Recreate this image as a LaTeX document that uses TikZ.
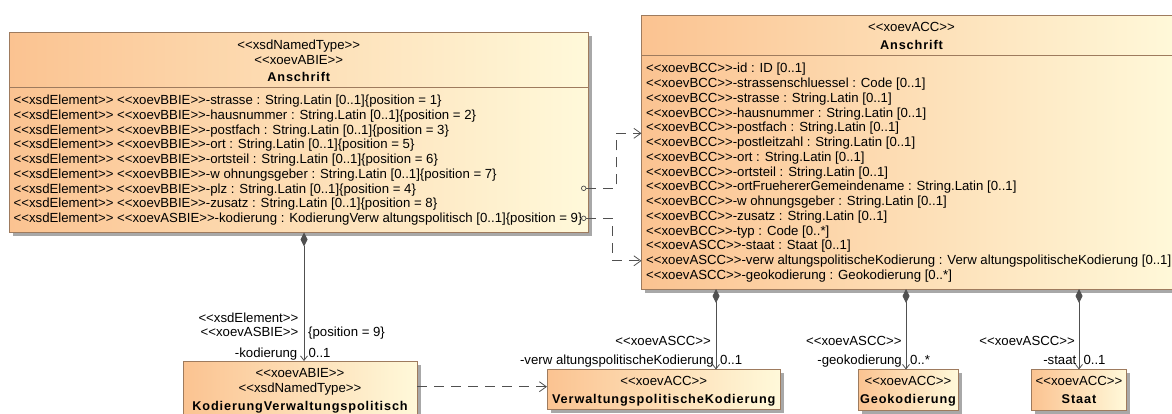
\documentclass[tikz,border=0pt]{standalone}
\usepackage{fontspec}
\setmainfont{Liberation Sans}[Ligatures=TeXOff]
\newfontfamily\namefam{Liberation Sans}[LetterSpace=7,Ligatures=TeXOff]
\usetikzlibrary{arrows.meta,shadows,calc}
\definecolor{umlfillA}{HTML}{FBC391}
\definecolor{umlfillB}{HTML}{FFF9DA}
\definecolor{umlborder}{HTML}{9E7B5E}
\definecolor{umlline}{HTML}{505050}
\definecolor{umlshadow}{HTML}{A8A8A8}
\newcommand\rowfont{\fontsize{13.2}{15}\selectfont}
\newcommand\namefont{\fontsize{12.7}{15}\selectfont\namefam\bfseries}
\tikzset{
  umlbox/.style={rectangle, draw=umlborder, line width=0.9pt, left color=umlfillA, right color=umlfillB,
    inner sep=0pt, outer sep=0pt, anchor=north west,
    drop shadow={shadow xshift=3.5pt, shadow yshift=-3.5pt, fill=umlshadow, opacity=1}},
  divider/.style={draw=umlborder, line width=0.9pt},
  ltxt/.style={inner sep=0pt, font=\rowfont, anchor=base west},
  ctxt/.style={inner sep=0pt, font=\rowfont, anchor=base},
  btxt/.style={inner sep=0pt, font=\namefont, anchor=base},
  rlab/.style={inner sep=0pt, font=\rowfont, anchor=base east},
  llab/.style={inner sep=0pt, font=\rowfont, anchor=base west},
  comp/.style={draw=umlline, line width=0.8pt, {Diamond[length=14pt,width=7pt]}-{Straight Barb[length=4.5pt,width=7pt]}},
  depend/.style={draw=umlline, line width=0.8pt, dash pattern=on 10pt off 7pt, -{Straight Barb[length=7pt,width=10pt]}},
  port/.style={circle, draw=umlline, line width=0.7pt, inner sep=0pt, minimum size=4.6pt},
}
\begin{document}
\begin{tikzpicture}[x=1pt,y=-1pt]
\useasboundingbox (0,0) rectangle (1172,413);
\clip (0,0) rectangle (1172,413);

% ---------- boxes ----------
\node[umlbox, minimum width=578.5pt, minimum height=200.5pt] (abie) at (9.5,32) {};
\node[umlbox, minimum width=540pt, minimum height=274pt] (acc) at (641.5,15) {};
\node[umlbox, minimum width=234pt, minimum height=60pt] (kvp) at (183,361) {};
\node[umlbox, minimum width=233.5pt, minimum height=39.5pt] (vpk) at (547,369.5) {};
\node[umlbox, minimum width=100pt, minimum height=40.5pt] (geo) at (858,369.5) {};
\node[umlbox, minimum width=95pt, minimum height=40.5pt] (staat) at (1031.5,369.5) {};

% ---------- left ABIE box ----------
\coordinate (abiediv) at (0,87);
\draw[divider] (abie.west |- abiediv) -- (abie.east |- abiediv);
\node[ctxt] (abieh1) at (298.75,49.5) {<<xsdNamedType>>};
\node[ctxt] (abieh2) at (298.75,64) {<<xoevABIE>>};
\node[btxt] (abieh3) at (298.75,81.5) {Anschrift};
\foreach \k/\t in {
 0/{<<xsdElement>> <<xoevBBIE>>-strasse : String.Latin [0..1]\{position = 1\}},
 1/{<<xsdElement>> <<xoevBBIE>>-hausnummer : String.Latin [0..1]\{position = 2\}},
 2/{<<xsdElement>> <<xoevBBIE>>-postfach : String.Latin [0..1]\{position = 3\}},
 3/{<<xsdElement>> <<xoevBBIE>>-ort : String.Latin [0..1]\{position = 5\}},
 4/{<<xsdElement>> <<xoevBBIE>>-ortsteil : String.Latin [0..1]\{position = 6\}},
 5/{<<xsdElement>> <<xoevBBIE>>-w ohnungsgeber : String.Latin [0..1]\{position = 7\}},
 6/{<<xsdElement>> <<xoevBBIE>>-plz : String.Latin [0..1]\{position = 4\}},
 7/{<<xsdElement>> <<xoevBBIE>>-zusatz : String.Latin [0..1]\{position = 8\}},
 8/{<<xsdElement>> <<xoevASBIE>>-kodierung : KodierungVerw altungspolitisch [0..1]\{position = 9\}}}
 \node[ltxt] (abier\k) at (13.5,{104.5+14.75*\k}) {\t};

% ---------- right ACC box ----------
\coordinate (accdiv) at (0,55);
\draw[divider] (acc.west |- accdiv) -- (acc.east |- accdiv);
\node[ctxt] (acch1) at (911.5,31.5) {<<xoevACC>>};
\node[btxt] (acch2) at (911.5,49.5) {Anschrift};
\foreach \k/\t in {
 0/{<<xoevBCC>>-id : ID [0..1]},
 1/{<<xoevBCC>>-strassenschluessel : Code [0..1]},
 2/{<<xoevBCC>>-strasse : String.Latin [0..1]},
 3/{<<xoevBCC>>-hausnummer : String.Latin [0..1]},
 4/{<<xoevBCC>>-postfach : String.Latin [0..1]},
 5/{<<xoevBCC>>-postleitzahl : String.Latin [0..1]},
 6/{<<xoevBCC>>-ort : String.Latin [0..1]},
 7/{<<xoevBCC>>-ortsteil : String.Latin [0..1]},
 8/{<<xoevBCC>>-ortFruehererGemeindename : String.Latin [0..1]},
 9/{<<xoevBCC>>-w ohnungsgeber : String.Latin [0..1]},
 10/{<<xoevBCC>>-zusatz : String.Latin [0..1]},
 11/{<<xoevBCC>>-typ : Code [0..*]},
 12/{<<xoevASCC>>-staat : Staat [0..1]},
 13/{<<xoevASCC>>-verw altungspolitischeKodierung : Verw altungspolitischeKodierung [0..1]},
 14/{<<xoevASCC>>-geokodierung : Geokodierung [0..*]}}
 \node[ltxt] (accr\k) at (646,{72.8+14.76*\k}) {\t};

% ---------- small boxes ----------
\node[ctxt] (kvph1) at (300,377.8) {<<xoevABIE>>};
\node[ctxt] (kvph2) at (300,392.8) {<<xsdNamedType>>};
\node[btxt] (kvph3) at (300,410.2) {KodierungVerwaltungspolitisch};
\node[ctxt] (vpkh1) at (663.75,385) {<<xoevACC>>};
\node[btxt] (vpkh2) at (663.75,403.3) {VerwaltungspolitischeKodierung};
\node[ctxt] (geoh1) at (908,385.5) {<<xoevACC>>};
\node[btxt] (geoh2) at (908,403.8) {Geokodierung};
\node[ctxt] (staath1) at (1079,385.5) {<<xoevACC>>};
\node[btxt] (staath2) at (1079,403.8) {Staat};

% ---------- ports and dependencies ----------
\node[port] (p1) at (583.7,188.3) {};
\node[port] (p2) at (583.7,218.3) {};
\coordinate (d1t) at (641.5,133.3);
\coordinate (d2t) at (641.5,260.8);
\draw[depend] (p1.east) -- ++(30,0) |- (d1t);
\draw[depend] (p2.east) -- ++(26,0) |- (d2t);
\coordinate (d3) at (0,386.7);
\draw[depend] (kvp.east |- d3) -- (vpk.west |- d3);

% ---------- compositions ----------
\coordinate (cx1) at (304,0);
\coordinate (cx2) at (716,0);
\coordinate (cx3) at (906,0);
\coordinate (cx4) at (1079,0);
\draw[comp] (abie.south -| cx1) -- (kvp.north -| cx1);
\draw[comp] (acc.south -| cx2) -- (vpk.north -| cx2);
\draw[comp] (acc.south -| cx3) -- (geo.north -| cx3);
\draw[comp] (acc.south -| cx4) -- (staat.north -| cx4);

% ---------- composition labels ----------
\node[rlab] (l1a) at (298.5,322.2) {<<xsdElement>>};
\node[rlab] (l1b) at (298.5,336.2) {<<xoevASBIE>>};
\node[llab] (l1c) at (308,336.2) {\{position = 9\}};
\node[rlab] (l1d) at (297.5,357.2) {-kodierung};
\node[llab] (l1e) at (308.3,357.2) {0..1};

\node[rlab] (l2a) at (711,345.5) {<<xoevASCC>>};
\node[rlab] (l2b) at (714,364.5) {-verw altungspolitischeKodierung};
\node[llab] (l2c) at (720,364.5) {0..1};

\node[rlab] (l3a) at (901.7,345.5) {<<xoevASCC>>};
\node[rlab] (l3b) at (902,364.5) {-geokodierung};
\node[llab] (l3c) at (910,364.5) {0..*};

\node[rlab] (l4a) at (1075,345.5) {<<xoevASCC>>};
\node[rlab] (l4b) at (1076.5,364.5) {-staat};
\node[llab] (l4c) at (1083.3,364.5) {0..1};
\end{tikzpicture}
\end{document}
